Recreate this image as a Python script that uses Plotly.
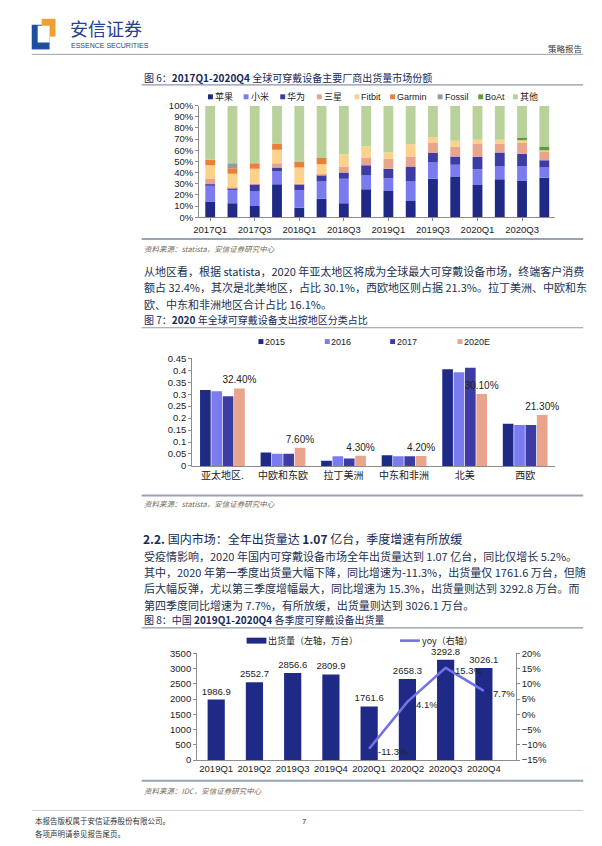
import plotly.graph_objects as go
import numpy as np

W, H = 602, 846

# ---------------- data: figure 6 ----------------
quarters = ['2017Q1', '2017Q2', '2017Q3', '2017Q4', '2018Q1', '2018Q2', '2018Q3', '2018Q4',
            '2019Q1', '2019Q2', '2019Q3', '2019Q4', '2020Q1', '2020Q2', '2020Q3', '2020Q4']
apple   = [14.0, 12.5, 10.0, 29.5, 8.5, 16.5, 12.5, 25.0, 23.5, 14.5, 34.5, 36.0, 29.0, 34.0, 33.0, 35.5]
xiaomi  = [14.5, 13.0, 13.5, 11.5, 16.0, 15.5, 22.0, 12.5, 11.5, 17.5, 14.5, 11.0, 14.0, 11.5, 13.0, 9.0]
huawei  = [1.0, 0.5, 6.0, 3.5, 5.0, 6.0, 5.5, 9.0, 8.5, 13.5, 8.5, 7.5, 11.0, 12.5, 11.0, 6.5]
samsung = [5.0, 0.5, 0.5, 4.0, 0.5, 0.5, 5.5, 7.0, 9.0, 9.0, 9.5, 9.0, 12.0, 8.0, 9.5, 8.5]
fitbit  = [12.0, 12.5, 13.5, 12.0, 14.5, 9.0, 11.0, 10.0, 5.5, 11.0, 5.0, 5.0, 3.5, 3.5, 2.5, 0.5]
garmin  = [5.0, 5.0, 5.0, 5.5, 5.0, 5.5, 0, 0, 0, 0, 0, 0, 0, 0, 0, 0]
fossil  = [0, 4.5, 0, 0, 0, 0, 0, 0, 0, 0, 0, 0, 0, 0, 0, 0]
boat    = [0, 0, 0, 0, 0, 0, 0, 0, 0, 0, 0, 0, 0, 0, 2.5, 3.5]
others  = [48.5, 51.5, 51.5, 34.0, 50.5, 47.0, 43.5, 36.5, 42.0, 34.5, 28.0, 31.5, 30.5, 30.5, 28.5, 36.5]
vendor_names = ['苹果', '小米', '华为', '三星', 'Fitbit', 'Garmin', 'Fossil', 'BoAt', '其他']
vendor_series = [apple, xiaomi, huawei, samsung, fitbit, garmin, fossil, boat, others]
vendor_colors = ['#1F2A87', '#7B7BF0', '#3C3CA4', '#E9A48E', '#FCD18C', '#EA8036', '#9A9A9A', '#5E9A3F', '#B9D29B']

# ---------------- data: figure 7 ----------------
regions = ['亚太地区.', '中欧和东欧', '拉丁美洲', '中东和非洲', '北美', '西欧']
s2015 = [0.318, 0.056, 0.022, 0.045, 0.404, 0.176]
s2016 = [0.312, 0.051, 0.041, 0.041, 0.392, 0.171]
s2017 = [0.292, 0.051, 0.031, 0.041, 0.411, 0.171]
s2020e = [0.324, 0.076, 0.043, 0.042, 0.301, 0.213]
year_names = ['2015', '2016', '2017', '2020E']
year_series = [s2015, s2016, s2017, s2020e]
year_colors = ['#1F2A87', '#7B7BF0', '#3C3CA4', '#E9A48E']

# ---------------- data: figure 8 ----------------
cn_quarters = ['2019Q1', '2019Q2', '2019Q3', '2019Q4', '2020Q1', '2020Q2', '2020Q3', '2020Q4']
shipments = [1986.9, 2552.7, 2856.6, 2809.9, 1761.6, 2658.3, 3292.8, 3026.1]
yoy = [None, None, None, None, -0.113, 0.041, 0.153, 0.077]

# ---------------- helpers ----------------
def X(p):
    return p / W

def Y(p):
    return 1 - p / H

FONT = 'Liberation Sans, Arial, Noto Sans CJK SC, sans-serif'
CJK = 'Noto Sans CJK SC, Liberation Sans, sans-serif'
TXT = '#22304F'
AX = '#8C8C8C'

fig = go.Figure()
annotations = []
shapes = []

def text(x, y, s, size=11, color=TXT, anchor='left', family=CJK):
    annotations.append(dict(x=X(x), y=Y(y), xref='paper', yref='paper', text=s,
                            showarrow=False, xanchor=anchor, yanchor='middle', borderpad=0,
                            font=dict(size=size, color=color, family=family)))

def rect(x0, y0, x1, y1, color):
    shapes.append(dict(type='rect', xref='paper', yref='paper', x0=X(x0), x1=X(x1),
                       y0=Y(y0), y1=Y(y1), fillcolor=color, line=dict(width=0)))

def hline(x0, x1, y, color, width=1):
    shapes.append(dict(type='line', xref='paper', yref='paper', x0=X(x0), x1=X(x1),
                       y0=Y(y), y1=Y(y), line=dict(color=color, width=width)))

# ---------------- figure 6 traces (stacked via base) ----------------
base = np.zeros(len(quarters))
for name, vals, col in zip(vendor_names, vendor_series, vendor_colors):
    v = np.array(vals) / 100.0
    fig.add_trace(go.Bar(x=quarters, y=v, base=base.copy(), name=name, marker_color=col,
                         marker_line_width=0, width=0.44, offsetgroup='stack6',
                         xaxis='x', yaxis='y', showlegend=False))
    base = base + v

# ---------------- figure 7 traces ----------------
for name, vals, col in zip(year_names, year_series, year_colors):
    kw = {}
    if name == '2020E':
        kw = dict(text=vals, texttemplate='%{y:.2%}', textposition='outside', constraintext='none',
                  textfont=dict(size=10, color='#222', family=FONT), cliponaxis=False)
    fig.add_trace(go.Bar(x=regions, y=vals, name=name, marker_color=col, marker_line_width=0,
                         offsetgroup='g' + name, xaxis='x2', yaxis='y2', showlegend=False, **kw))

# ---------------- figure 8 traces ----------------
fig.add_trace(go.Bar(x=cn_quarters, y=shipments, name='出货量（左轴，万台）', marker_color='#1F2A87',
                     marker_line_width=0, width=0.45, offsetgroup='ship',
                     text=shipments, texttemplate='%{y:.1f}', textposition='outside', constraintext='none',
                     textfont=dict(size=9.5, color='#222', family=FONT), cliponaxis=False,
                     xaxis='x3', yaxis='y3', showlegend=False))
fig.add_trace(go.Scatter(x=cn_quarters, y=yoy, name='yoy（右轴）', mode='lines',
                         line=dict(color='#7272E6', width=2.6),
                         cliponaxis=False, xaxis='x3', yaxis='y4', showlegend=False))
for q, v in zip(cn_quarters, yoy):
    if v is not None:
        annotations.append(dict(x=q, y=v, xref='x3', yref='y4', text=f'{v*100:.1f}%',
                                showarrow=False, xanchor='left', yanchor='middle', xshift=8, yshift=-3,
                                borderpad=0, font=dict(size=9.5, color='#222', family=FONT)))

axis_common = dict(showgrid=False, zeroline=False, showline=True, linecolor=AX, linewidth=1,
                   ticks='outside', tickcolor=AX, ticklen=3,
                   tickfont=dict(size=9.5, color='#222', family=FONT))

fig.update_layout(
    width=W, height=H, autosize=False,
    margin=dict(l=0, r=0, t=0, b=0),
    paper_bgcolor='white', plot_bgcolor='white',
    barmode='group', bargap=0.25, bargroupgap=0.06,
    xaxis=dict(domain=[X(195), X(555)], anchor='y', type='category', dtick=2,
               **axis_common),
    yaxis=dict(domain=[Y(214), Y(101)], anchor='x', range=[0, 1], dtick=0.1,
               tickformat='.0%', **axis_common),
    xaxis2=dict(domain=[X(188), X(555)], anchor='y2', type='category',
                **{**axis_common, 'tickfont': dict(size=10, color='#222', family=CJK), 'ticks': ''}),
    yaxis2=dict(domain=[Y(466), Y(357)], anchor='x2', range=[0, 0.45], dtick=0.05,
                **axis_common),
    xaxis3=dict(domain=[X(193), X(515)], anchor='y3', type='category',
                **{**axis_common, 'ticks': ''}),
    yaxis3=dict(domain=[Y(764), Y(656)], anchor='x3', range=[0, 3500], dtick=500,
                **axis_common),
    yaxis4=dict(overlaying='y3', side='right', anchor='x3', range=[-0.15, 0.20], dtick=0.05,
                tickformat='.0%', **axis_common),
    showlegend=False,
)

# ---------------- page header ----------------
rect(26, 19, 44, 44, '#1E4E9E')
rect(36, 13, 50, 31, '#F0A030')
rect(32, 20, 44, 37, 'white')
text(64, 22.5, '安信证券', size=18, color='#24428E')
text(65, 40.5, 'ESSENCE SECURITIES', size=7, color='#24428E', family=FONT)
text(583, 43, '策略报告', size=8.5, color='#333', anchor='right')
hline(26, 583, 49, '#A0A0A0', 1)

# ---------------- figure 6 frame ----------------
text(138, 72, '图 6：<b>2017Q1-2020Q4</b> 全球可穿戴设备主要厂商出货量市场份额', size=10, color='#16295A')
hline(137, 583, 80, '#8C96A8', 1.2)
leg6_x = [204, 240, 277, 314, 352, 388, 436, 477, 512]
for lx, name, col in zip(leg6_x, vendor_names, vendor_colors):
    rect(lx, 89.5, lx + 5, 94.5, col)
    text(lx + 6, 92, name, size=9, color='#222', family=FONT)
hline(137, 583, 236, '#97A2B4', 2)
text(138, 246, '<i>资料来源：statista，安信证券研究中心</i>', size=7.5, color='#7A6A55')

para1 = ['从地区看，根据 statista，2020 年亚太地区将成为全球最大可穿戴设备市场，终端客户消费',
         '额占 32.4%，其次是北美地区，占比 30.1%，西欧地区则占据 21.3%。拉丁美洲、中欧和东',
         '欧、中东和非洲地区合计占比 16.1%。']
for i, line in enumerate(para1):
    text(138, 268.5 + i * 16.5, line, size=11)

# ---------------- figure 7 frame ----------------
text(138, 318, '图 7：<b>2020</b> 年全球可穿戴设备支出按地区分类占比', size=10, color='#16295A')
hline(137, 583, 326, '#8C96A8', 1.2)
leg7_x = [255, 322, 388, 456]
for lx, name, col in zip(leg7_x, year_names, year_colors):
    rect(lx, 337.5, lx + 5, 342.5, col)
    text(lx + 5.5, 340, name, size=9, color='#222', family=FONT)
hline(137, 583, 496, '#97A2B4', 2)
text(138, 504, '<i>资料来源：statista，安信证券研究中心</i>', size=7.5, color='#7A6A55')

# ---------------- section 2.2 ----------------
text(137, 540, '<b>2.2.</b> 国内市场：全年出货量达 <b>1.07</b> 亿台，季度增速有所放缓', size=12, color='#16295A')
para2 = ['受疫情影响，2020 年国内可穿戴设备市场全年出货量达到 1.07 亿台，同比仅增长 5.2%。',
         '其中，2020 年第一季度出货量大幅下降，同比增速为-11.3%，出货量仅 1761.6 万台，但随',
         '后大幅反弹，尤以第三季度增幅最大，同比增速为 15.3%，出货量则达到 3292.8 万台。而',
         '第四季度同比增速为 7.7%，有所放缓，出货量则达到 3026.1 万台。']
for i, line in enumerate(para2):
    text(138, 557 + i * 16.5, line, size=11)

# ---------------- figure 8 frame ----------------
text(138, 622, '图 8：中国 <b>2019Q1-2020Q4</b> 各季度可穿戴设备出货量', size=10, color='#16295A')
hline(137, 583, 630, '#8C96A8', 1.2)
rect(243, 640, 263, 646, '#1F2A87')
text(264, 643, '出货量（左轴，万台）', size=9, color='#222')
hline(398, 418, 643, '#7272E6', 2.6)
text(419, 643, 'yoy（右轴）', size=9, color='#222')
hline(137, 583, 785, '#97A2B4', 2)
text(138, 795, '<i>资料来源：IDC，安信证券研究中心</i>', size=7.5, color='#7A6A55')

# ---------------- footer ----------------
hline(26, 583, 815, '#D0D0D0', 1)
text(28, 825, '本报告版权属于安信证券股份有限公司。', size=7.5, color='#333')
text(28, 838, '各项声明请参见报告尾页。', size=7.5, color='#333')
text(301, 826, '7', size=8, color='#333', anchor='center', family=FONT)

fig.update_layout(annotations=annotations, shapes=shapes)

fig.write_html('out.html', config={'displayModeBar': False},
               post_script="document.body.style.margin='0';")
